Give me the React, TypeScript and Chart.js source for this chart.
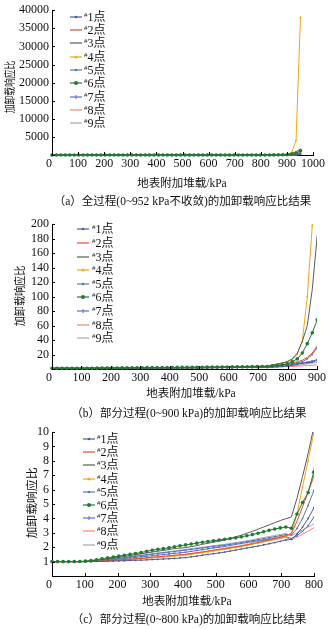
import React, { useEffect, useRef } from "react";
import { Chart, registerables } from "chart.js";

Chart.register(...registerables);

// ---- data (x in kPa, y = load/unload response ratio) ----
const loadKPa = [0, 17, 34, 51, 68, 85, 102, 119, 136, 153, 170, 187, 204, 221, 238, 255, 272, 289, 306, 323, 340, 357, 374, 391, 408, 425, 442, 459, 476, 493, 510, 527, 544, 561, 578, 595, 612, 629, 646, 663, 680, 697, 714, 731, 748, 765, 782, 799, 816, 833, 850, 867, 884, 901, 918, 935, 952];

const point1 = [1, 1, 1, 1, 1, 1, 1, 1, 1.01, 1.02, 1.03, 1.04, 1.05, 1.06, 1.08, 1.09, 1.1, 1.12, 1.14, 1.16, 1.18, 1.2, 1.22, 1.25, 1.28, 1.33, 1.38, 1.44, 1.5, 1.55, 1.6, 1.66, 1.73, 1.8, 1.87, 1.94, 2.01, 2.08, 2.16, 2.24, 2.32, 2.41, 2.5, 2.55, 2.9, 3.4, 4.0, 4.7, 6, 7, 7.8, 8.5, 9.5, 12, 40, 100, 300];
const point2 = [1, 1, 1, 1, 1, 1, 1, 1.01, 1.02, 1.04, 1.06, 1.08, 1.11, 1.14, 1.17, 1.2, 1.23, 1.26, 1.3, 1.33, 1.37, 1.4, 1.44, 1.47, 1.51, 1.56, 1.62, 1.67, 1.73, 1.79, 1.85, 1.91, 1.97, 2.03, 2.1, 2.17, 2.25, 2.33, 2.42, 2.51, 2.6, 2.7, 2.8, 2.95, 3.8, 4.8, 5.8, 6.9, 8.5, 10, 12, 16, 22, 32, 150, 350, 800];
const point3 = [1, 1, 1, 1, 1, 1, 1.02, 1.05, 1.09, 1.14, 1.19, 1.24, 1.3, 1.36, 1.42, 1.48, 1.54, 1.6, 1.66, 1.72, 1.78, 1.84, 1.9, 1.94, 1.97, 2.04, 2.11, 2.2, 2.27, 2.35, 2.42, 2.5, 2.6, 2.72, 2.83, 2.97, 3.1, 3.25, 3.4, 3.55, 3.7, 3.85, 3.98, 4.1, 5.4, 6.9, 8.5, 10.3, 14, 22, 38, 60, 110, 185, 500, 900, 1700];
const point4 = [1, 1, 1, 1, 1, 1, 1, 1.01, 1.02, 1.03, 1.05, 1.07, 1.09, 1.11, 1.14, 1.17, 1.2, 1.23, 1.26, 1.29, 1.32, 1.36, 1.39, 1.42, 1.45, 1.5, 1.56, 1.62, 1.68, 1.74, 1.8, 1.85, 1.91, 1.97, 2.04, 2.12, 2.2, 2.29, 2.38, 2.47, 2.57, 2.67, 2.77, 2.95, 4.3, 6.2, 8.0, 9.9, 13, 20, 38, 100, 198, 320, 650, 4000, 38000];
const point5 = [1, 1, 1, 1, 1, 1, 1.01, 1.03, 1.06, 1.1, 1.14, 1.18, 1.22, 1.27, 1.32, 1.37, 1.42, 1.47, 1.52, 1.57, 1.62, 1.66, 1.7, 1.75, 1.8, 1.85, 1.9, 1.95, 2.0, 2.05, 2.1, 2.15, 2.2, 2.26, 2.32, 2.38, 2.45, 2.52, 2.59, 2.66, 2.73, 2.8, 2.88, 2.85, 3.3, 4.0, 4.9, 5.9, 7.2, 8.5, 10, 14, 20, 30, 80, 200, 500];
const point6 = [1, 1, 1, 1, 1, 1.01, 1.03, 1.07, 1.13, 1.2, 1.26, 1.32, 1.38, 1.44, 1.5, 1.56, 1.63, 1.71, 1.79, 1.85, 1.9, 1.96, 2.03, 2.1, 2.16, 2.22, 2.28, 2.34, 2.4, 2.45, 2.5, 2.55, 2.6, 2.65, 2.72, 2.8, 2.88, 2.97, 3.07, 3.17, 3.26, 3.34, 3.4, 3.32, 4.3, 5.1, 5.8, 7.2, 10, 14, 22, 35, 50, 68, 220, 520, 1200];
const point7 = [1, 1, 1, 1, 1, 1, 1.01, 1.02, 1.04, 1.07, 1.1, 1.13, 1.17, 1.21, 1.25, 1.29, 1.33, 1.37, 1.41, 1.45, 1.49, 1.53, 1.57, 1.61, 1.65, 1.71, 1.77, 1.83, 1.89, 1.95, 2.0, 2.05, 2.12, 2.2, 2.26, 2.32, 2.38, 2.44, 2.5, 2.56, 2.62, 2.68, 2.75, 2.6, 2.8, 3.1, 3.5, 4.05, 5, 6.5, 8, 9.5, 11, 13, 30, 80, 250];
const point8 = [1, 1, 1, 1, 1, 1, 1, 1.01, 1.02, 1.04, 1.06, 1.08, 1.1, 1.13, 1.16, 1.19, 1.22, 1.25, 1.28, 1.32, 1.35, 1.39, 1.42, 1.46, 1.5, 1.55, 1.6, 1.66, 1.72, 1.78, 1.84, 1.9, 1.97, 2.04, 2.1, 2.17, 2.24, 2.31, 2.38, 2.45, 2.52, 2.6, 2.68, 2.5, 2.7, 2.9, 3.1, 3.35, 3.6, 3.9, 4.2, 4.6, 5, 6, 20, 50, 150];
const point9 = [1, 1, 1, 1, 1, 1, 1.01, 1.03, 1.06, 1.1, 1.14, 1.19, 1.24, 1.29, 1.34, 1.39, 1.44, 1.49, 1.54, 1.59, 1.64, 1.69, 1.74, 1.8, 1.85, 1.9, 1.95, 2.0, 2.05, 2.1, 2.15, 2.2, 2.26, 2.32, 2.38, 2.45, 2.52, 2.6, 2.67, 2.74, 2.81, 2.88, 2.95, 2.8, 3.0, 3.2, 3.4, 3.6, 4.2, 5, 6, 7, 8, 9.5, 25, 60, 200];

const seriesNames = ["1点", "2点", "3点", "4点", "5点", "6点", "7点", "8点", "9点"];
const SERIES = [point1, point2, point3, point4, point5, point6, point7, point8, point9];

// ---- styles ----
const COLORS = ["#4f5b9a", "#e0502a", "#5a5a5a", "#f2a516", "#5a78b4", "#1f7a32", "#5f6bd0", "#f0876a", "#a9a9a9"];
const POINT_STYLE = ["circle", "circle", "circle", "triangle", "circle", "circle", "crossRot", "circle", "circle"];
const POINT_R = [0.9, 0, 0, 1.4, 0.9, 1.8, 1.2, 0, 0];

const SERIF = "'Liberation Serif', 'Times New Roman', 'Noto Sans CJK SC', serif";
const W = 334;

type Panel = {
  xMax: number;
  yMax: number;
  yStep: number;
  area: { left: number; right: number; top: number; bottom: number };
  canvasTop: number;
  canvasHeight: number;
  legend: { sampleLeft: number; textLeft: number; firstY: number; spacing: number };
  xTitle: { x: number; y: number };
  yTitle: { x: number; y: number; k: number };
  caption: { x: number; y: number; text: string };
};

const PANELS: Panel[] = [
  {
    xMax: 1000, yMax: 40000, yStep: 5000,
    area: { left: 52, right: 313, top: 10, bottom: 155 },
    canvasTop: 0, canvasHeight: 175,
    legend: { sampleLeft: 70, textLeft: 84, firstY: 16.7, spacing: 13.3 },
    xTitle: { x: 182, y: 181.5 },
    yTitle: { x: 10, y: 87, k: 0.76 },
    caption: { x: 182.5, y: 200, text: "（a）全过程(0~952 kPa不收敛)的加卸载响应比结果" },
  },
  {
    xMax: 900, yMax: 200, yStep: 20,
    area: { left: 52, right: 317, top: 224, bottom: 369 },
    canvasTop: 205, canvasHeight: 185,
    legend: { sampleLeft: 77, textLeft: 92, firstY: 229.3, spacing: 13.6 },
    xTitle: { x: 191, y: 392 },
    yTitle: { x: 20, y: 296, k: 0.88 },
    caption: { x: 189, y: 412, text: "（b）部分过程(0~900 kPa)的加卸载响应比结果" },
  },
  {
    xMax: 800, yMax: 10, yStep: 1,
    area: { left: 52, right: 314, top: 432, bottom: 576 },
    canvasTop: 418, canvasHeight: 180,
    legend: { sampleLeft: 83, textLeft: 97, firstY: 439, spacing: 13.2 },
    xTitle: { x: 187, y: 600 },
    yTitle: { x: 32, y: 503, k: 1.03 },
    caption: { x: 189, y: 618, text: "（c）部分过程(0~800 kPa)的加卸载响应比结果" },
  },
];

const innerTicks = {
  id: "innerTicks",
  afterDraw(chart: any) {
    const { ctx, chartArea, scales } = chart;
    const x = scales.x;
    const y = scales.y;
    ctx.save();
    ctx.strokeStyle = "#000";
    ctx.lineWidth = 1;
    x.ticks.forEach((_: any, i: number) => {
      const px = Math.round(x.getPixelForTick(i)) + 0.5;
      ctx.beginPath();
      ctx.moveTo(px, chartArea.bottom);
      ctx.lineTo(px, chartArea.bottom - 3);
      ctx.stroke();
    });
    y.ticks.forEach((_: any, i: number) => {
      const py = Math.round(y.getPixelForTick(i)) + 0.5;
      ctx.beginPath();
      ctx.moveTo(chartArea.left, py);
      ctx.lineTo(chartArea.left + 3, py);
      ctx.stroke();
    });
    ctx.restore();
  },
};

function PanelChart({ p }: { p: Panel }) {
  const ref = useRef<HTMLCanvasElement | null>(null);
  useEffect(() => {
    if (!ref.current) return;
    const datasets = SERIES.map((d, k) => ({
      label: "#" + seriesNames[k],
      data: loadKPa.map((x, i) => ({ x, y: d[i] })),
      borderColor: COLORS[k],
      backgroundColor: COLORS[k],
      borderWidth: 1,
      pointRadius: POINT_R[k],
      pointStyle: POINT_STYLE[k],
      pointBorderWidth: k === 6 ? 1 : 0,
      pointBorderColor: COLORS[k],
      tension: 0,
      order: k === 5 ? -1 : 0,
      clip: { left: 4, right: 0, top: 0, bottom: 4 },
    }));
    const tickFont = { family: SERIF, size: 12 };
    const chart = new Chart(ref.current, {
      type: "line",
      data: { datasets },
      plugins: [innerTicks],
      options: {
        responsive: false,
        animation: false,
        devicePixelRatio: 1,
        layout: { padding: { left: 0, right: W - p.area.right, top: p.area.top - p.canvasTop, bottom: 0 } },
        plugins: { legend: { display: false }, tooltip: { enabled: false } },
        scales: {
          x: {
            type: "linear",
            min: 0,
            max: p.xMax,
            ticks: {
              stepSize: 100,
              autoSkip: false,
              maxRotation: 0,
              padding: 2,
              color: "#111",
              font: tickFont,
              callback: (v: any) => (Number(v) === 0 ? "0\u2002" : String(v)),
            },
            grid: { display: true, drawOnChartArea: false, drawTicks: false },
            border: { display: true, color: "#000", width: 1 },
            afterFit: (s: any) => {
              s.height = p.canvasTop + p.canvasHeight - p.area.bottom;
            },
          },
          y: {
            type: "linear",
            min: 0,
            max: p.yMax,
            ticks: {
              stepSize: p.yStep,
              autoSkip: false,
              padding: 3,
              color: "#111",
              font: tickFont,
              callback: (v: any) => (Number(v) === 0 ? "" : String(v)),
            },
            grid: { display: true, drawOnChartArea: false, drawTicks: false },
            border: { display: true, color: "#000", width: 1 },
            afterFit: (s: any) => {
              s.width = p.area.left;
            },
          },
        },
      } as any,
    });
    return () => chart.destroy();
  }, [p]);
  return (
    <canvas
      ref={ref}
      width={W}
      height={p.canvasHeight}
      style={{ position: "absolute", left: 0, top: p.canvasTop, width: W, height: p.canvasHeight }}
    />
  );
}

function LegendSample({ k }: { k: number }) {
  const c = COLORS[k];
  let marker: React.ReactNode = null;
  if (k === 0 || k === 4) marker = <circle cx={6} cy={4} r={1.3} fill={c} />;
  if (k === 5) marker = <circle cx={6} cy={4} r={2} fill={c} />;
  if (k === 3) marker = <polygon points="6,2.3 7.8,5.3 4.2,5.3" fill={c} />;
  if (k === 6) marker = <line x1={6} y1={2} x2={6} y2={6} stroke={c} strokeWidth={1} />;
  return (
    <svg width={12} height={8} style={{ display: "block" }}>
      <line x1={0} y1={4} x2={12} y2={4} stroke={c} strokeWidth={1.2} />
      {marker}
    </svg>
  );
}

function PanelOverlay({ p }: { p: Panel }) {
  const lg = p.legend;
  return (
    <>
      {seriesNames.map((n, k) => (
        <React.Fragment key={k}>
          <div style={{ position: "absolute", left: lg.sampleLeft, top: lg.firstY + k * lg.spacing - 4 }}>
            <LegendSample k={k} />
          </div>
          <div
            style={{
              position: "absolute",
              left: lg.textLeft,
              top: lg.firstY + k * lg.spacing - 8,
              height: 16,
              lineHeight: "16px",
              fontFamily: SERIF,
              fontSize: 12,
              color: "#111",
              whiteSpace: "nowrap",
            }}
          >
            <span style={{ fontSize: 7, position: "relative", top: -4 }}>#</span>
            {n}
          </div>
        </React.Fragment>
      ))}
      <div
        style={{
          position: "absolute",
          left: p.xTitle.x,
          top: p.xTitle.y,
          transform: "translate(-50%,-50%)",
          fontFamily: SERIF,
          fontSize: 11.5,
          color: "#111",
          whiteSpace: "nowrap",
        }}
      >
        地表附加堆载/kPa
      </div>
      <div
        style={{
          position: "absolute",
          left: p.yTitle.x,
          top: p.yTitle.y,
          transform: `translate(-50%,-50%) rotate(-90deg) scaleX(${p.yTitle.k})`,
          fontFamily: SERIF,
          fontSize: 11.5,
          lineHeight: "12px",
          color: "#111",
          whiteSpace: "nowrap",
        }}
      >
        加卸载响应比
      </div>
      <div
        style={{
          position: "absolute",
          left: p.caption.x,
          top: p.caption.y,
          transform: "translate(-50%,-50%)",
          fontFamily: SERIF,
          fontSize: 11.5,
          color: "#111",
          whiteSpace: "nowrap",
        }}
      >
        {p.caption.text}
      </div>
    </>
  );
}

export default function App() {
  useEffect(() => {
    document.body.style.margin = "0";
  }, []);
  return (
    <div style={{ position: "absolute", left: 0, top: 0, width: W, height: 629, background: "#fff", overflow: "hidden" }}>
      {PANELS.map((p, i) => (
        <PanelChart key={"c" + i} p={p} />
      ))}
      {PANELS.map((p, i) => (
        <PanelOverlay key={"o" + i} p={p} />
      ))}
    </div>
  );
}
